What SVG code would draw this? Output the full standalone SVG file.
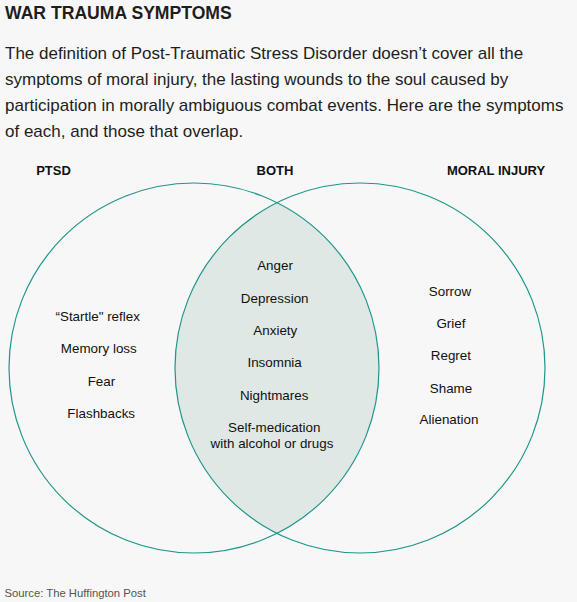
<svg xmlns="http://www.w3.org/2000/svg" width="577" height="602" viewBox="0 0 577 602">
<style>
text{font-family:"Liberation Sans",Arial,Helvetica,sans-serif;fill:#1e1e1e}
.title{font-size:17.6px;font-weight:bold}
.body{font-size:17px}
.head{font-size:13px;font-weight:bold;text-anchor:middle;fill:#111}
.item{font-size:13.4px;text-anchor:middle;fill:#111}
.src{font-size:11.3px;fill:#555}
.ring{fill:none;stroke:#1f968a;stroke-width:1.2}
</style>
<rect width="577" height="602" fill="#f7f7f7"/>
<text class="title" x="5" y="18.5">WAR TRAUMA SYMPTOMS</text>
<g id="intro">
<text class="body" x="5" y="58.7">The definition of Post-Traumatic Stress Disorder doesn’t cover all the</text>
<text class="body" x="5" y="84.7">symptoms of moral injury, the lasting wounds to the soul caused by</text>
<text class="body" x="5" y="110.7">participation in morally ambiguous combat events. Here are the symptoms</text>
<text class="body" x="5" y="136.7">of each, and those that overlap.</text>
</g>
<g id="both-region">
<path d="M277,202.7 A185,185 0 0,1 277,533.3 A185,185 0 0,1 277,202.7 Z" fill="#dfe8e5"/>
</g>
<g id="connectors">
<circle id="ptsd-circle" class="ring" cx="194" cy="368" r="185"/>
<circle id="moral-circle" class="ring" cx="360" cy="368" r="185"/>
</g>
<g id="ptsd">
<text class="head" x="53.5" y="175">PTSD</text>
<text class="item" x="97.7" y="320.7">“Startle" reflex</text>
<text class="item" x="98.8" y="352.7">Memory loss</text>
<text class="item" x="101.4" y="385.5">Fear</text>
<text class="item" x="101.2" y="417.7">Flashbacks</text>
</g>
<g id="both">
<text class="head" x="275" y="175">BOTH</text>
<text class="item" x="275" y="270.3">Anger</text>
<text class="item" x="274.7" y="302.7">Depression</text>
<text class="item" x="275.3" y="335">Anxiety</text>
<text class="item" x="274.6" y="367.3">Insomnia</text>
<text class="item" x="274.2" y="399.5">Nightmares</text>
<text class="item" x="274.2" y="431.7">Self-medication</text>
<text class="item" x="272" y="448.3">with alcohol or drugs</text>
</g>
<g id="moral-injury">
<text class="head" x="496" y="175">MORAL INJURY</text>
<text class="item" x="450" y="296">Sorrow</text>
<text class="item" x="450.9" y="327.7">Grief</text>
<text class="item" x="450.9" y="360">Regret</text>
<text class="item" x="451" y="392.7">Shame</text>
<text class="item" x="449" y="424.3">Alienation</text>
</g>
<text class="src" x="4.4" y="597">Source: The Huffington Post</text>
</svg>
